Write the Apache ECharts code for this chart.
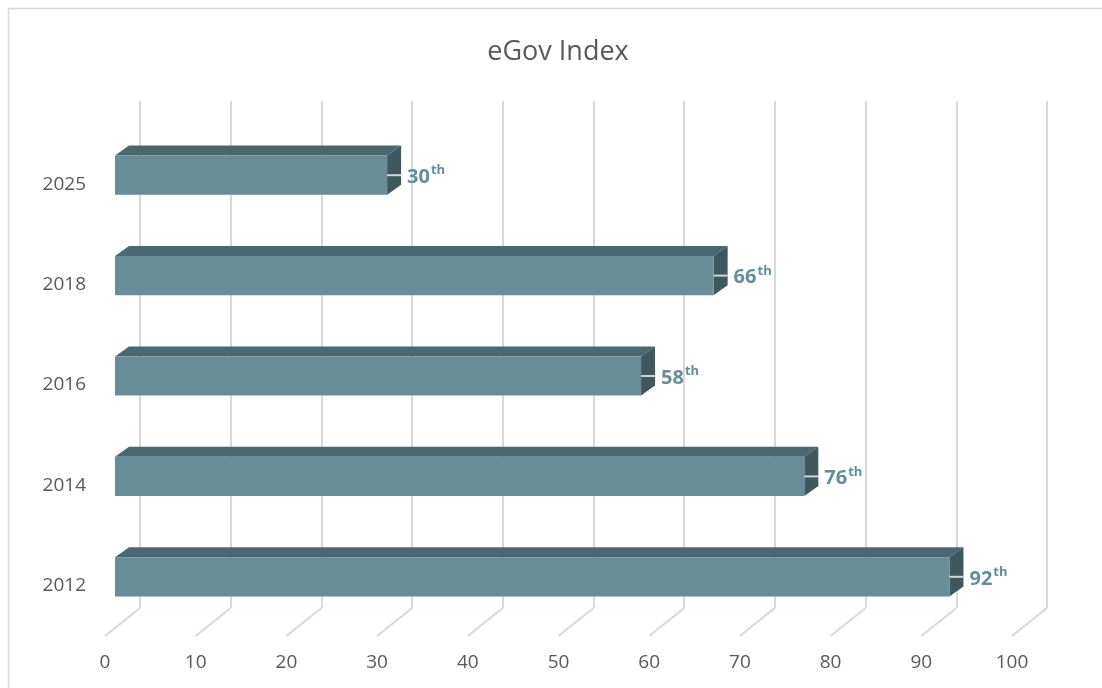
<!DOCTYPE html>
<html>
<head>
<meta charset="utf-8">
<title>eGov Index</title>
<script src="https://cdn.jsdelivr.net/npm/echarts@6/dist/echarts.min.js"></script>
<style>
  html, body { margin: 0; padding: 0; background: #ffffff; }
  #chart { width: 1102px; height: 688px; }
</style>
</head>
<body>
<div id="chart"></div>
<script>
// Survey years (bottom to top) and the ranking reached in each year
const years = ['2012', '2014', '2016', '2018', '2025'];
const ranks = [92, 76, 58, 66, 30];
// Value axis ticks
const ticks = [0, 10, 20, 30, 40, 50, 60, 70, 80, 90, 100];

const FONT = "'Open Sans', 'Noto Sans', sans-serif";
const FRONT = '#688c98';
const TOP = '#4b6870';
const SIDE = '#3f5860';
const GRID_LINE = '#d9d9d9';
const LABEL = '#628e9e';

// Perspective offsets (pixels): floor depth, bar front plane, bar depth
const FLOOR = [35, -28];
const BAR_FRONT = [10, -9];
const BAR_DEPTH = [14, -10];

const chart = echarts.init(document.getElementById('chart'), null, { renderer: 'canvas' });

function renderFloor(params, api) {
  const cs = params.coordSys;
  const x = api.coord([api.value(0), 0])[0];
  const yb = cs.y + cs.height;
  return {
    type: 'line',
    shape: { x1: x, y1: yb, x2: x + FLOOR[0], y2: yb + FLOOR[1] },
    style: { stroke: GRID_LINE, lineWidth: 2 },
    silent: true
  };
}

function renderBar(params, api) {
  const val = api.value(0);
  const idx = api.value(1);
  const p0 = api.coord([0, idx]);
  const p1 = api.coord([val, idx]);
  const h = api.size([0, 1])[1] * 0.39;
  const x0 = p0[0] + BAR_FRONT[0];
  const x1 = p1[0] + BAR_FRONT[0];
  const cy = p0[1] + BAR_FRONT[1];
  const top = cy - h / 2;
  const bot = cy + h / 2;
  const dx = BAR_DEPTH[0], dy = BAR_DEPTH[1];
  return {
    type: 'group',
    children: [
      {
        type: 'polygon',
        shape: { points: [[x0, top], [x1, top], [x1 + dx, top + dy], [x0 + dx, top + dy]] },
        style: { fill: TOP }
      },
      {
        type: 'polygon',
        shape: { points: [[x1, top], [x1 + dx, top + dy], [x1 + dx, bot + dy], [x1, bot]] },
        style: { fill: SIDE }
      },
      {
        type: 'rect',
        shape: { x: x0, y: top, width: x1 - x0, height: h },
        style: { fill: FRONT }
      },
      {
        type: 'line',
        shape: { x1: x1, y1: cy, x2: x1 + dx, y2: cy },
        style: { stroke: '#d4d4d4', lineWidth: 2 }
      },
      {
        type: 'text',
        x: x1 + dx + 6,
        y: cy + 2,
        style: {
          text: '{n|' + val + '}{s|th}',
          verticalAlign: 'middle',
          align: 'left',
          rich: {
            n: { fontFamily: FONT, fontSize: 20, fontWeight: 'bold', fill: LABEL },
            s: { fontFamily: FONT, fontSize: 13, fontWeight: 'bold', fill: LABEL, padding: [0, 0, 13, 1] }
          }
        }
      }
    ]
  };
}

const option = {
  animation: false,
  backgroundColor: '#ffffff',
  graphic: [
    {
      type: 'rect',
      shape: { x: 8.5, y: 8.5, width: 1120, height: 700 },
      style: { fill: 'none', stroke: '#d9d9d9', lineWidth: 1.5 },
      silent: true,
      z: -10
    },
    {
      type: 'text',
      x: 558,
      y: 52,
      style: {
        text: 'eGov Index',
        fontFamily: FONT,
        fontSize: 27,
        fill: '#595959',
        align: 'center',
        verticalAlign: 'middle'
      }
    }
  ],
  grid: [
    { left: 105, right: 90, top: 134, bottom: 52 },
    { left: 140, right: 55, top: 101, bottom: 80 }
  ],
  xAxis: [
    {
      type: 'value', gridIndex: 0, min: 0, max: 100, interval: 10,
      axisLine: { show: false }, axisTick: { show: false }, splitLine: { show: false },
      axisLabel: { color: '#595959', fontFamily: FONT, fontSize: 19, margin: 17 }
    },
    {
      type: 'value', gridIndex: 1, min: 0, max: 100, interval: 10,
      axisLine: { show: false }, axisTick: { show: false }, axisLabel: { show: false },
      splitLine: { show: true, lineStyle: { color: GRID_LINE, width: 2 } }
    }
  ],
  yAxis: [
    {
      type: 'category', gridIndex: 0, data: years,
      axisLine: { show: false }, axisTick: { show: false }, splitLine: { show: false },
      axisLabel: { color: '#595959', fontFamily: FONT, fontSize: 19, margin: 19 }
    },
    {
      type: 'value', gridIndex: 1, show: false
    }
  ],
  series: [
    {
      type: 'custom',
      xAxisIndex: 0, yAxisIndex: 0,
      renderItem: renderFloor,
      data: ticks.map(t => [t, 0]),
      z: 1,
      silent: true
    },
    {
      type: 'custom',
      xAxisIndex: 0, yAxisIndex: 0,
      renderItem: renderBar,
      data: ranks.map((r, i) => [r, i]),
      z: 5,
      silent: true
    }
  ]
};

chart.setOption(option);
</script>
</body>
</html>
